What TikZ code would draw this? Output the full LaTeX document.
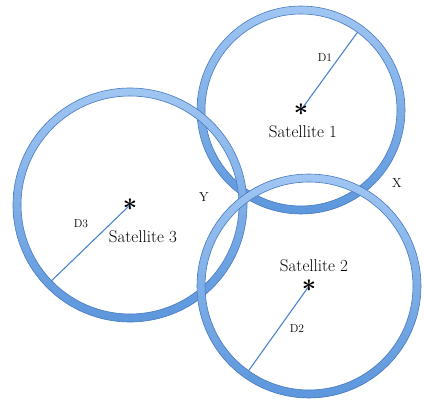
\documentclass[tikz,border=0pt]{standalone}
\usepackage{tikz}
\usetikzlibrary{positioning, calc}

\definecolor{ringtop}{RGB}{160,198,242}
\definecolor{ringbottom}{RGB}{92,150,220}
\definecolor{ringedge}{RGB}{72,122,192}
\definecolor{radiusblue}{RGB}{72,132,204}

\begin{document}
\begin{tikzpicture}[
    x=1pt, y=1pt,
    every node/.style={inner sep=0pt},
    satlabel/.style={font=\fontsize{17}{20}\selectfont},
    distlabel/.style={font=\fontsize{11.5}{13}\selectfont},
    pointlabel/.style={font=\fontsize{13}{15}\selectfont},
    satstar/.style={font=\fontsize{23}{23}\selectfont\boldmath},
    radiusline/.style={draw=radiusblue, line width=1.1pt},
    ringfill/.style={top color=ringtop, bottom color=ringbottom, even odd rule},
    ringline/.style={draw=ringedge, line width=0.6pt},
]

% fixed frame of the picture
\useasboundingbox (0,0) rectangle (424,405);

% centres of the three satellites
\coordinate (c1) at (301,295);
\coordinate (c2) at (309,119);
\coordinate (c3) at (130,200);

% =========================================================
% 1. Satellite 1 (top right)
% =========================================================
\coordinate (r1) at ($(c1)+(54:100pt)$);
\draw[radiusline] (c1) -- (r1);
\shade[ringfill] (c1) circle (104pt) (c1) circle (96pt);
\draw[ringline] (c1) circle (104pt) (c1) circle (96pt);
\node[satstar] (star1) at (c1) {$\ast$};
\node[satlabel] (sat1) at (303,273) {Satellite 1};
\node[distlabel] (d1) at (325,347) {D1};

% =========================================================
% 2. Satellite 3 (left)
% =========================================================
\coordinate (r3) at ($(c3)+(224:113pt)$);
\draw[radiusline] (c3) -- (r3);
\shade[ringfill] (c3) circle (117pt) (c3) circle (109pt);
\draw[ringline] (c3) circle (117pt) (c3) circle (109pt);
\node[satstar] (star3) at (c3) {$\ast$};
\node[satlabel] (sat3) at (143,168) {Satellite 3};
\node[distlabel] (d3) at (81,181) {D3};

% =========================================================
% 3. Satellite 2 (bottom right)
% =========================================================
\coordinate (r2) at ($(c2)+(234.5:108pt)$);
\draw[radiusline] (c2) -- (r2);
\shade[ringfill] (c2) circle (112pt) (c2) circle (104pt);
\draw[ringline] (c2) circle (112pt) (c2) circle (104pt);
\node[satstar] (star2) at (c2) {$\ast$};
\node[satlabel] (sat2) at (314,139) {Satellite 2};
\node[distlabel] (d2) at (297,76) {D2};

% Crossing points
\node[pointlabel] (ptY) at (204,208) {Y};
\node[pointlabel] (ptX) at (397,222) {X};

\end{tikzpicture}
\end{document}
